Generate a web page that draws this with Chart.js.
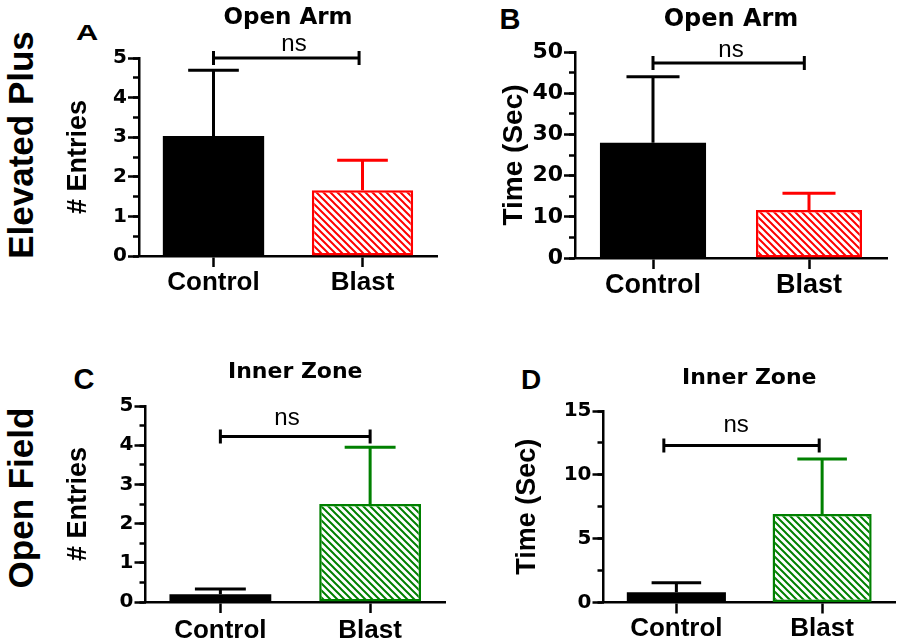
<!DOCTYPE html>
<html><head><meta charset="utf-8">
<script src="https://cdn.jsdelivr.net/npm/chart.js@4/dist/chart.umd.min.js"></script>
<style>
html,body{margin:0;padding:0;background:#fff;width:900px;height:643px;overflow:hidden;position:relative;font-family:"Liberation Sans",Arial,sans-serif;}
.box{position:absolute;}
.lab{position:absolute;font-weight:bold;color:#000;white-space:nowrap;line-height:1;}
</style></head><body>
<div class="lab" style="left:20px;top:145px;font-size:35px;transform:translate(-50%,-50%) rotate(-90deg)">Elevated Plus</div>
<div class="lab" style="left:20px;top:498px;font-size:35px;transform:translate(-50%,-50%) rotate(-90deg)">Open Field</div>
<div class="lab" style="left:87px;top:33px;font-size:22px;transform:translate(-50%,-50%) scaleX(1.4)">A</div>
<div class="lab" style="left:510px;top:19px;font-size:29px;transform:translate(-50%,-50%)">B</div>
<div class="lab" style="left:84px;top:379px;font-size:29px;transform:translate(-50%,-50%)">C</div>
<div class="lab" style="left:531px;top:380px;font-size:28px;transform:translate(-50%,-50%)">D</div>
<div class="box" id="wA"><canvas id="cA"></canvas></div>
<div class="box" id="wB"><canvas id="cB"></canvas></div>
<div class="box" id="wC"><canvas id="cC"></canvas></div>
<div class="box" id="wD"><canvas id="cD"></canvas></div>
<script>
// ---------- data ----------
const categories = ['Control', 'Blast'];

const entriesOpenArm = [3.03, 1.66];
const entriesOpenArmErr = [1.66, 0.76];
const timeOpenArm = [28.0, 11.65];
const timeOpenArmErr = [16.0, 4.05];
const entriesInnerZone = [0.2, 2.5];
const entriesInnerZoneErr = [0.13, 1.45];
const timeInnerZone = [0.8, 6.93];
const timeInnerZoneErr = [0.75, 4.31];

// significance brackets: [from category, to category, level, label position]
const bracketA = [0, 0.977, 5.0, 0.54];
const bracketB = [0, 0.97, 47.3, 0.50];
const bracketC = [0, 1.0, 4.22, 0.445];
const bracketD = [-0.086, 0.98, 12.3, 0.41];
const bracketLabel = 'ns';

const titles = ['Open Arm', 'Open Arm', 'Inner Zone', 'Inner Zone'];
const yTitles = ['# Entries', 'Time (Sec)', '# Entries', 'Time (Sec)'];
const yMax = [5, 50, 5, 15];
const yStep = [1, 10, 1, 5];
const yMinorStep = [0.5, 5, 0.5, 2.5];

// ---------- styling ----------
const RED = '#ff0000', GREEN = '#008000', BLACK = '#000000';
function hatch(color) {
  const s = 7;
  const c = document.createElement('canvas');
  c.width = s; c.height = s;
  const x = c.getContext('2d');
  x.fillStyle = '#ffffff'; x.fillRect(0, 0, s, s);
  x.strokeStyle = color; x.lineWidth = 2;
  x.beginPath();
  x.moveTo(-2, -2); x.lineTo(s + 2, s + 2);
  x.moveTo(-2, s - 2); x.lineTo(2, s + 2);
  x.moveTo(s - 2, -2); x.lineTo(s + 2, 2);
  x.stroke();
  return x.createPattern(c, 'repeat');
}

const panels = [
  { wrap: 'wA', canvas: 'cA', box: [40, 0, 410, 340], area: { L: 139, T: 58, R: 437, B: 256 },
    vals: entriesOpenArm, errs: entriesOpenArmErr, bracket: bracketA, color: RED,
    yTitleSize: 27, yTitleX: 78.3, titleSize: 23, titleY: 18.3, tickSize: 20, xSize: 26, xPad: 0, nsOff: 14 },
  { wrap: 'wB', canvas: 'cB', box: [450, 0, 450, 340], area: { L: 575, T: 52, R: 887, B: 258 },
    vals: timeOpenArm, errs: timeOpenArmErr, bracket: bracketB, color: RED,
    yTitleSize: 28, yTitleX: 514, titleSize: 24, titleY: 20, tickSize: 22, xSize: 27, xPad: 0, nsOff: 13 },
  { wrap: 'wC', canvas: 'cC', box: [40, 330, 410, 380], area: { L: 145.5, T: 406, R: 445, B: 602 },
    vals: entriesInnerZone, errs: entriesInnerZoneErr, bracket: bracketC, color: GREEN,
    yTitleSize: 27, yTitleX: 79, titleSize: 22, titleY: 372.5, tickSize: 20, xSize: 26, xPad: 2, nsOff: 18 },
  { wrap: 'wD', canvas: 'cD', box: [450, 330, 450, 380], area: { L: 603.5, T: 411, R: 895, B: 602.5 },
    vals: timeInnerZone, errs: timeInnerZoneErr, bracket: bracketD, color: GREEN,
    yTitleSize: 27, yTitleX: 528, titleSize: 22, titleY: 378, tickSize: 20, xSize: 26, xPad: 0, nsOff: 20 }
];

const X_AXIS_H = 60;

panels.forEach((p, k) => {
  const [bx, by, bw, bh] = p.box;
  const wrap = document.getElementById(p.wrap);
  wrap.style.left = bx + 'px'; wrap.style.top = by + 'px';
  wrap.style.width = bw + 'px'; wrap.style.height = bh + 'px';

  const yLH = p.yTitleSize * 1.2;
  const axisLeft = p.yTitleX - yLH / 2;
  const padLeft = axisLeft - bx;
  const yWidth = p.area.L - axisLeft;
  const padRight = bx + bw - p.area.R;
  const padBottom = by + bh - p.area.B - X_AXIS_H;
  const tLH = p.titleSize * 1.2;
  const tPadTop = p.titleY - by - tLH / 2;
  const tPadBottom = p.area.T - by - tPadTop - tLH;

  const barColors = [BLACK, p.color];

  const overlay = {
    id: 'overlay' + k,
    afterDatasetsDraw(chart) {
      const ctx = chart.ctx;
      const ys = chart.scales.y;
      const meta = chart.getDatasetMeta(0);
      ctx.save();
      ctx.lineWidth = 3;
      ctx.lineCap = 'butt';
      meta.data.forEach((bar, i) => {
        const yTop = ys.getPixelForValue(p.vals[i] + p.errs[i]);
        ctx.strokeStyle = barColors[i];
        ctx.beginPath();
        ctx.moveTo(bar.x, bar.y);
        ctx.lineTo(bar.x, yTop);
        ctx.moveTo(bar.x - bar.width / 4, yTop);
        ctx.lineTo(bar.x + bar.width / 4, yTop);
        ctx.stroke();
      });
      ctx.restore();
    },
    afterDraw(chart) {
      const ctx = chart.ctx;
      const xs = chart.scales.x, ys = chart.scales.y;
      const [c0, c1, lvl, lx] = p.bracket;
      const x0 = xs.getPixelForValue(c0), x1 = xs.getPixelForValue(c1);
      const y = ys.getPixelForValue(lvl);
      ctx.save();
      ctx.strokeStyle = BLACK; ctx.lineWidth = 3;
      ctx.beginPath();
      ctx.moveTo(x0, y); ctx.lineTo(x1, y);
      ctx.moveTo(x0, y - 7); ctx.lineTo(x0, y + 7);
      ctx.moveTo(x1, y - 7); ctx.lineTo(x1, y + 7);
      ctx.stroke();
      ctx.fillStyle = BLACK;
      ctx.font = '24px "Liberation Sans", Arial, sans-serif';
      ctx.textAlign = 'center'; ctx.textBaseline = 'middle';
      ctx.fillText(bracketLabel, xs.getPixelForValue(lx), y - p.nsOff);
      ctx.restore();
    }
  };

  new Chart(document.getElementById(p.canvas), {
    type: 'bar',
    data: {
      labels: categories,
      datasets: [{
        data: p.vals,
        backgroundColor: [BLACK, hatch(p.color)],
        borderColor: barColors,
        borderWidth: [0, 2.5],
        borderSkipped: false,
        categoryPercentage: 1,
        barPercentage: 0.68
      }]
    },
    options: {
      responsive: true,
      maintainAspectRatio: false,
      animation: false,
      devicePixelRatio: 1,
      layout: { padding: { left: padLeft, right: padRight, top: 0, bottom: padBottom } },
      plugins: {
        legend: { display: false },
        tooltip: { enabled: false },
        title: {
          display: true, text: titles[k], fullSize: false, color: BLACK,
          font: { family: 'DejaVu Sans', size: p.titleSize, weight: 'bold' },
          padding: { top: tPadTop, bottom: tPadBottom }
        }
      },
      scales: {
        x: {
          grid: { display: true, drawOnChartArea: false, drawTicks: true, tickLength: 11, tickWidth: 2.5, tickColor: BLACK, offset: false },
          border: { display: true, color: BLACK, width: 2.5 },
          ticks: { color: BLACK, padding: p.xPad, maxRotation: 0,
                   font: { family: 'Liberation Sans', size: p.xSize, weight: 'bold' } },
          afterFit: s => { s.height = X_AXIS_H; }
        },
        y: {
          position: 'left', weight: 1, min: 0, max: yMax[k],
          ticks: { stepSize: yStep[k], color: BLACK, padding: 1,
                   font: { family: 'DejaVu Sans', size: p.tickSize, weight: 'bold' } },
          grid: { display: true, drawOnChartArea: false, drawTicks: true, tickLength: 11, tickWidth: 2.5, tickColor: BLACK },
          border: { display: true, color: BLACK, width: 2.5 },
          title: { display: true, text: yTitles[k], color: BLACK, padding: 0,
                   font: { family: 'Liberation Sans', size: p.yTitleSize, weight: 'bold' } },
          afterFit: s => { s.width = yWidth; }
        },
        y2: {
          position: 'left', weight: 0, min: 0, max: yMax[k],
          ticks: { display: false, stepSize: yMinorStep[k] },
          grid: { display: true, drawOnChartArea: false, drawTicks: true, tickLength: 6, tickWidth: 2.5, tickColor: BLACK },
          border: { display: false },
          afterFit: s => { s.width = 0; }
        }
      }
    },
    plugins: [overlay]
  });
});
</script>
</body></html>
